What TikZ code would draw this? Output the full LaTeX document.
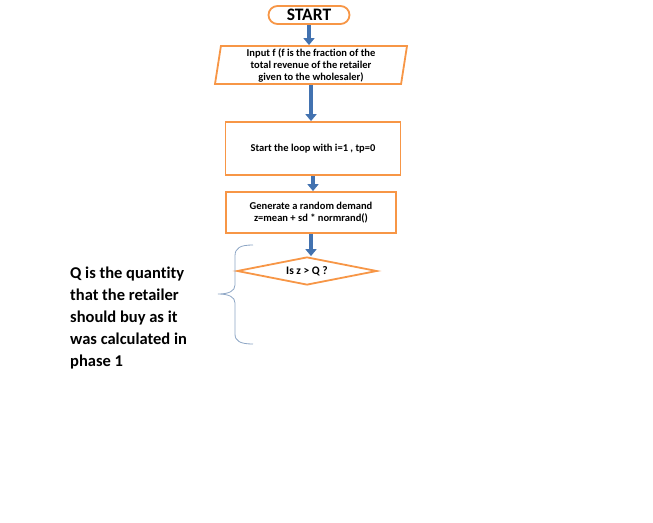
\documentclass[tikz,border=0pt]{standalone}
\usepackage{fontspec}
\setmainfont{Carlito}[Ligatures=NoCommon]
\usetikzlibrary{shapes.geometric, arrows.meta, positioning}

\definecolor{boxorange}{HTML}{F79646}
\definecolor{arrowblue}{HTML}{4272B0}
\definecolor{bracegray}{HTML}{8CA5C4}

\tikzset{
  box/.style={draw=boxorange, line width=1.8pt, fill=white, align=center,
    font=\bfseries\fontsize{10.5}{12}\selectfont},
  flowarrow/.style={draw=arrowblue, line width=4.5pt,
    -{Triangle[width=11pt,length=7pt]}},
}

\begin{document}
\begin{tikzpicture}[x=1pt,y=-1pt]
\useasboundingbox (0,0) rectangle (653,522);

% Flowchart boxes
\node[box, rounded corners=9pt, minimum width=81pt, minimum height=18pt, inner sep=0pt,
  font=\bfseries\fontsize{17.5}{17.5}\selectfont] (start) at (309,15) {START};
\node[box, trapezium, trapezium left angle=80, trapezium right angle=100,
  trapezium stretches body, minimum width=192pt, minimum height=38pt, inner sep=0pt]
  (input) at (311,65) {Input f (f is the fraction of the\\total revenue of the retailer\\given to the wholesaler)};
\node[box, minimum width=175pt, minimum height=53pt] (loop) at (313,148.5)
  {Start the loop with i=1 , tp=0};
\node[box, minimum width=170pt, minimum height=41pt] (demand) at (311,212.5)
  {Generate a random demand\\z=mean + sd * normrand()};
\node[box, diamond, aspect=5, minimum width=140pt, minimum height=28pt, inner sep=0pt,
  font=\bfseries\fontsize{11.5}{12}\selectfont] (test) at (307,271)
  {Is z > Q ?};

% Arrows between the steps
\draw[flowarrow] (start.south) -- (start.south |- input.north);
\draw[flowarrow] (input.south) -- (input.south |- loop.north);
\draw[flowarrow] (loop.south) -- (loop.south |- demand.north);
\draw[flowarrow] (demand.south) -- (demand.south |- test.north);

% Brace and note
\draw[bracegray, line width=0.8pt] (253,245) .. controls (240,245) and (235,248) .. (235,256)
  -- (235,285) .. controls (235,291) and (229,294) .. (218,294)
  .. controls (229,294) and (235,297) .. (235,303) -- (235,334)
  .. controls (235,341) and (240,344) .. (253,344);
\node[anchor=north west, align=left, inner sep=0pt,
  font=\bfseries\fontsize{16.5}{22}\selectfont] (note) at (70,267)
  {Q is the quantity\\that the retailer\\should buy as it\\was calculated in\\phase 1};
\end{tikzpicture}
\end{document}
